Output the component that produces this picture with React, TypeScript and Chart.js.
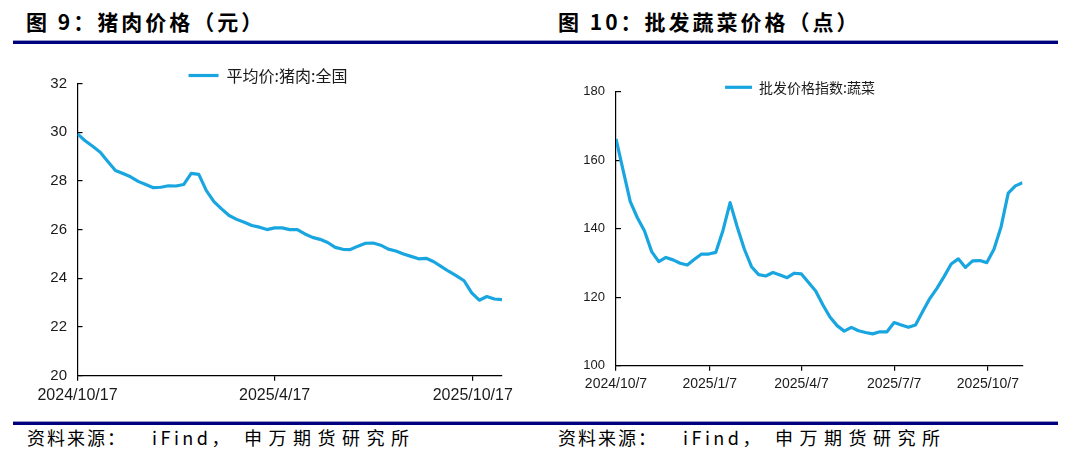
import React, { useEffect, useRef } from 'react';
import { Chart, registerables } from 'chart.js';

Chart.register(...registerables);

// ---- Data: pork average price (weekly, from 2024/10/17) ----
const porkLabel = '平均价:猪肉:全国';
const porkValues = [
  29.93, 29.65, 29.42, 29.18, 28.8, 28.43, 28.3, 28.17, 27.98, 27.85,
  27.72, 27.74, 27.8, 27.79, 27.85, 28.31, 28.27, 27.6, 27.15, 26.85,
  26.58, 26.42, 26.3, 26.17, 26.1, 26.0, 26.07, 26.07, 26.0, 26.0,
  25.82, 25.68, 25.6, 25.47, 25.27, 25.19, 25.18, 25.32, 25.44, 25.45,
  25.36, 25.2, 25.12, 25.0, 24.9, 24.8, 24.82, 24.68, 24.48, 24.28,
  24.1, 23.9, 23.4, 23.1, 23.25, 23.15, 23.12,
];
const porkTickDays = [0, 182, 365];
const porkTickLabels = ['2024/10/17', '2025/4/17', '2025/10/17'];

// ---- Data: wholesale vegetable price index (weekly, from 2024/10/7) ----
const vegLabel = '批发价格指数:蔬菜';
const vegValues = [
  166.2, 157.0, 147.9, 143.2, 139.3, 133.3, 130.4, 131.6, 130.9, 129.9,
  129.4, 131.1, 132.6, 132.6, 133.1, 139.5, 147.6, 140.5, 134.0, 128.9,
  126.6, 126.2, 127.2, 126.5, 125.7, 127.0, 126.8, 124.3, 121.8, 117.8,
  114.2, 111.7, 110.1, 111.2, 110.2, 109.7, 109.3, 109.9, 109.9, 112.6,
  111.9, 111.2, 111.9, 115.8, 119.6, 122.6, 126.0, 129.7, 131.2, 128.7,
  130.6, 130.7, 130.1, 134.0, 140.6, 150.4, 152.5, 153.4,
];
const vegTickDays = [0, 92, 182, 273, 365];
const vegTickLabels = ['2024/10/7', '2025/1/7', '2025/4/7', '2025/7/7', '2025/10/7'];

const LINE_COLOR = '#19a6e0';
const AXIS_COLOR = '#000000';
const TEXT_COLOR = '#1a1a1a';
const NUM_FONT = 'Liberation Sans, Arial, sans-serif';
const CJK_FONT = '"Noto Sans CJK SC", "Noto Sans", sans-serif';

type ChartOpts = {
  label: string;
  values: number[];
  tickDays: number[];
  tickLabels: string[];
  xMax: number;
  yMin: number;
  yMax: number;
  yStep: number;
  padLeft: number;
  padRight: number;
  yWidth: number;
  xHeight: number;
  legendHeight: number;
  legendPad: number;
  legendFont: number;
  legendBox: number;
  yFont: number;
  xFont: number;
  yPad: number;
  xPad: number;
};

// Shrinks the legend's reserved height (so the plot sits close under it)
// and draws the legend without clipping it to that smaller box.
function legendHeightPlugin(h: number) {
  return {
    id: 'legendHeight',
    beforeInit(chart: any) {
      const legend = chart.legend;
      if (!legend) return;
      const origFit = legend.fit;
      legend.fit = function () {
        origFit.call(this);
        this.height = h;
      };
      const origDraw = legend.draw;
      legend.draw = function () {
        if (typeof this._draw === 'function') {
          if (this.options.display) this._draw();
        } else {
          origDraw.call(this);
        }
      };
    },
  };
}

function makeConfig(o: ChartOpts): any {
  return {
    type: 'line',
    data: {
      datasets: [
        {
          label: o.label,
          data: o.values.map((v, i) => ({ x: i * 7, y: v })),
          borderColor: LINE_COLOR,
          backgroundColor: LINE_COLOR,
          borderWidth: 3.2,
          pointRadius: 0,
          pointHoverRadius: 0,
          pointStyle: 'line',
          tension: 0,
          fill: false,
          borderJoinStyle: 'round',
          borderCapStyle: 'butt',
        },
      ],
    },
    options: {
      animation: false,
      responsive: false,
      events: [],
      layout: { padding: { left: o.padLeft, right: o.padRight, top: 0, bottom: 0 } },
      plugins: {
        legend: {
          position: 'top',
          align: 'center',
          labels: {
            usePointStyle: true,
            pointStyleWidth: o.legendBox,
            padding: o.legendPad,
            color: TEXT_COLOR,
            font: { family: CJK_FONT, size: o.legendFont },
          },
        },
        tooltip: { enabled: false },
      },
      scales: {
        x: {
          type: 'linear',
          min: 0,
          max: o.xMax,
          afterBuildTicks: (s: any) => {
            s.ticks = o.tickDays.map((v) => ({ value: v }));
          },
          afterFit: (s: any) => {
            s.height = o.xHeight;
            s.paddingLeft = 0;
            s.paddingRight = 0;
          },
          ticks: {
            autoSkip: false,
            maxRotation: 0,
            minRotation: 0,
            padding: o.xPad,
            color: TEXT_COLOR,
            font: { family: NUM_FONT, size: o.xFont },
            callback: (v: number) => {
              const k = o.tickDays.indexOf(v);
              return k >= 0 ? o.tickLabels[k] : null;
            },
          },
          grid: {
            drawOnChartArea: false,
            drawTicks: true,
            tickLength: 5,
            color: AXIS_COLOR,
            lineWidth: 1.2,
          },
          border: { display: true, color: AXIS_COLOR, width: 1.2 },
        },
        y: {
          type: 'linear',
          min: o.yMin,
          max: o.yMax,
          afterFit: (s: any) => {
            s.width = o.yWidth;
            s.paddingTop = 0;
            s.paddingBottom = 0;
          },
          ticks: {
            stepSize: o.yStep,
            padding: o.yPad,
            color: TEXT_COLOR,
            font: { family: NUM_FONT, size: o.yFont },
          },
          grid: {
            drawOnChartArea: false,
            drawTicks: true,
            tickLength: -5,
            color: AXIS_COLOR,
            lineWidth: 1.2,
          },
          border: { display: true, color: AXIS_COLOR, width: 1.2 },
        },
      },
    },
    plugins: [legendHeightPlugin(o.legendHeight)],
  };
}

const porkOpts: ChartOpts = {
  label: porkLabel,
  values: porkValues,
  tickDays: porkTickDays,
  tickLabels: porkTickLabels,
  xMax: 392,
  yMin: 20,
  yMax: 32,
  yStep: 2,
  padLeft: 34,
  padRight: 38,
  yWidth: 43.5,
  xHeight: 44.3,
  legendHeight: 33.5,
  legendPad: 17.5,
  legendFont: 16,
  legendBox: 30,
  yFont: 15,
  xFont: 16,
  yPad: 15.5,
  xPad: 5.7,
};

const vegOpts: ChartOpts = {
  label: vegLabel,
  values: vegValues,
  tickDays: vegTickDays,
  tickLabels: vegTickLabels,
  xMax: 399,
  yMin: 100,
  yMax: 180,
  yStep: 20,
  padLeft: 37.5,
  padRight: 54.5,
  yWidth: 38.5,
  xHeight: 54.3,
  legendHeight: 41.7,
  legendPad: 30.3,
  legendFont: 14,
  legendBox: 27,
  yFont: 13,
  xFont: 14,
  yPad: 16,
  xPad: 4.6,
};

function LineChart({ opts, left, top, width, height }: { opts: ChartOpts; left: number; top: number; width: number; height: number }) {
  const ref = useRef<HTMLCanvasElement | null>(null);
  useEffect(() => {
    if (!ref.current) return;
    const chart = new Chart(ref.current, makeConfig(opts));
    return () => chart.destroy();
  }, [opts]);
  return (
    <canvas
      ref={ref}
      width={width}
      height={height}
      style={{ position: 'absolute', left, top, width, height }}
    />
  );
}

const titleStyle: React.CSSProperties = {
  position: 'absolute',
  top: 11,
  fontFamily: CJK_FONT,
  fontWeight: 700,
  fontSize: 21,
  lineHeight: '21px',
  letterSpacing: 3,
  color: '#000',
  whiteSpace: 'nowrap',
};

const srcStyle: React.CSSProperties = {
  position: 'absolute',
  top: 428,
  fontFamily: CJK_FONT,
  fontSize: 18,
  lineHeight: '18px',
  color: '#000',
  whiteSpace: 'nowrap',
};

function Source({ offset }: { offset: number }) {
  return (
    <>
      <div style={{ ...srcStyle, left: 27 + offset, letterSpacing: 2 }}>资料来源：</div>
      <div style={{ ...srcStyle, left: 152 + offset, letterSpacing: 3.5 }}>iFind，</div>
      <div style={{ ...srcStyle, left: 244 + offset, letterSpacing: 6.5 }}>申万期货研究所</div>
    </>
  );
}

export default function App() {
  return (
    <div style={{ position: 'absolute', left: 0, top: 0, width: 1077, height: 471, background: '#fff', overflow: 'hidden' }}>
      <div style={{ ...titleStyle, left: 26 }}>图 9：猪肉价格（元）</div>
      <div style={{ ...titleStyle, left: 558 }}>图 10：批发蔬菜价格（点）</div>
      <div style={{ position: 'absolute', left: 13, top: 40, width: 1045, height: 1, background: '#9a9ac8' }} />
      <div style={{ position: 'absolute', left: 13, top: 41, width: 1045, height: 3, background: '#00007f' }} />
      <LineChart opts={porkOpts} left={0} top={50} width={540} height={370} />
      <LineChart opts={vegOpts} left={540} top={50} width={537} height={370} />
      <div style={{ position: 'absolute', left: 13, top: 421, width: 1045, height: 1, background: '#9a9ac8' }} />
      <div style={{ position: 'absolute', left: 13, top: 422, width: 1045, height: 3, background: '#00007f' }} />
      <Source offset={0} />
      <Source offset={531} />
    </div>
  );
}
